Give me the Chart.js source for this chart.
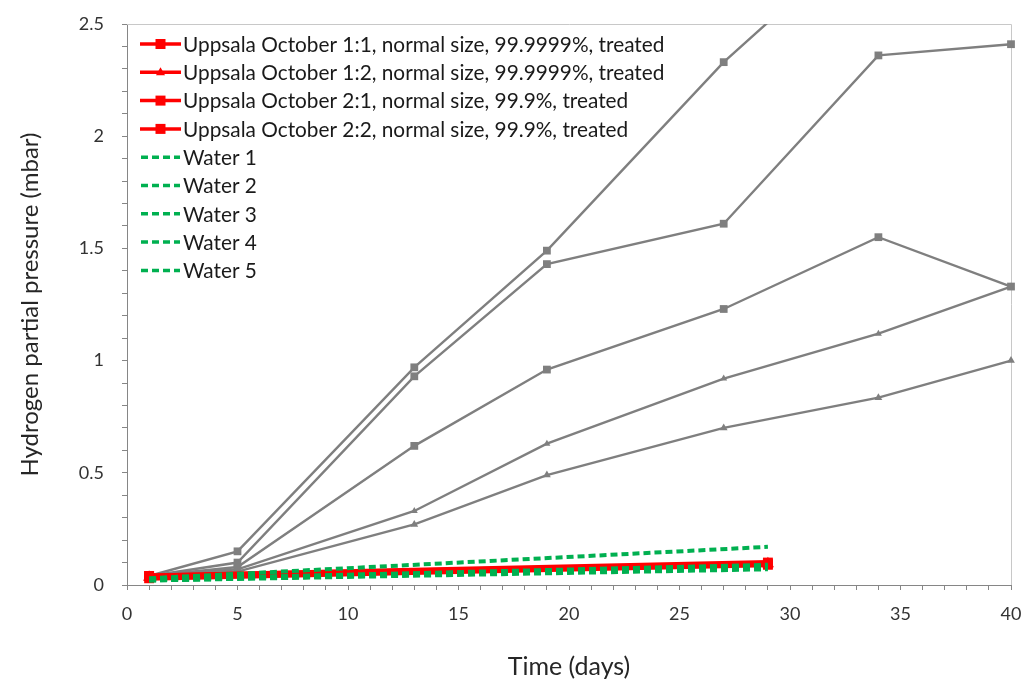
<!DOCTYPE html>
<html>
<head>
<meta charset="utf-8">
<script src="https://cdn.jsdelivr.net/npm/chart.js@4.4.1/dist/chart.umd.min.js"></script>
<style>
  html, body { margin: 0; padding: 0; background: #ffffff; }
  #wrap { width: 1024px; height: 684px; position: relative; }
</style>
</head>
<body>
<div id="wrap"><canvas id="c" width="1024" height="684"></canvas></div>
<script>
// ---------- data ----------
const greyDays = [1, 5, 13, 19, 27, 34, 40];
const greyA = [0.04, 0.15, 0.97, 1.49, 2.33, 2.95];
const greyB = [0.04, 0.10, 0.93, 1.43, 1.61, 2.36, 2.41];
const greyC = [0.04, 0.08, 0.62, 0.96, 1.23, 1.55, 1.33];
const greyD = [0.04, 0.07, 0.33, 0.63, 0.92, 1.12, 1.33];
const greyE = [0.04, 0.06, 0.27, 0.49, 0.70, 0.835, 1.00];

const shortDays = [1, 29];
const treatedLabels = [
  "Uppsala October 1:1, normal size, 99.9999%, treated",
  "Uppsala October 1:2, normal size, 99.9999%, treated",
  "Uppsala October 2:1, normal size, 99.9%, treated",
  "Uppsala October 2:2, normal size, 99.9%, treated"
];
const treated11 = [0.040, 0.100];
const treated12 = [0.035, 0.095];
const treated21 = [0.030, 0.090];
const treated22 = [0.040, 0.095];

const waterLabels = ["Water 1", "Water 2", "Water 3", "Water 4", "Water 5"];
const water1 = [0.030, 0.170];
const water2 = [0.025, 0.090];
const water3 = [0.020, 0.080];
const water4 = [0.020, 0.070];
const water5 = [0.025, 0.085];

const yTickLabels = ["0", "0.5", "1", "1.5", "2", "2.5"];
const xTickLabels = ["0", "5", "10", "15", "20", "25", "30", "35", "40"];

// ---------- helpers ----------
const pts = (xs, ys) => ys.map((v, i) => ({ x: xs[i], y: v }));
const FONT = "Lato, 'Open Sans', sans-serif";
const GREY = '#7f7f7f';
const RED = '#ff0000';
const GREEN = '#00b050';

const treatedSets = [treated11, treated12, treated21, treated22];
const treatedMarkers = ['rect', 'triangle', 'rect', 'rect'];
const waterSets = [water1, water2, water3, water4, water5];

const datasets = [];
// green water (drawn on top: first)
waterSets.forEach((d, i) => {
  datasets.push({
    label: waterLabels[i], data: pts(shortDays, d),
    borderColor: GREEN, backgroundColor: GREEN, borderWidth: 4,
    borderDash: [7, 4], pointRadius: 0, showLine: true,
    legendShow: true, legendKind: 'water'
  });
});
// red treated
treatedSets.forEach((d, i) => {
  datasets.push({
    label: treatedLabels[i], data: pts(shortDays, d),
    borderColor: RED, backgroundColor: RED, borderWidth: 5,
    pointStyle: treatedMarkers[i], pointRadius: 7, pointBorderWidth: 0,
    showLine: true, legendShow: true, legendKind: 'treated',
    clip: { left: 10, right: 10, top: 0, bottom: 10 }
  });
});
// grey untreated (not in legend)
const greySets = [greyA, greyB, greyC, greyD, greyE];
const greyMarkers = ['rect', 'rect', 'rect', 'triangle', 'triangle'];
const greyRadius = [5.5, 5.5, 5.5, 4, 4.5];
greySets.forEach((d, i) => {
  datasets.push({
    label: 'grey' + i, data: pts(greyDays, d),
    borderColor: GREY, backgroundColor: GREY, borderWidth: 2.4,
    pointStyle: greyMarkers[i], pointRadius: greyRadius[i], pointBorderWidth: 0,
    showLine: true, legendShow: false,
    clip: { left: 10, right: 10, top: 0, bottom: 10 }
  });
});

// ---------- plugins ----------
const framePlugin = {
  id: 'frame',
  beforeDatasetsDraw(chart) {
    const { ctx, chartArea: a } = chart;
    ctx.save();
    ctx.strokeStyle = '#c8c8c8';
    ctx.lineWidth = 1;
    ctx.beginPath();
    ctx.moveTo(a.left, a.top + 0.5);
    ctx.lineTo(a.right + 0.5, a.top + 0.5);
    ctx.lineTo(a.right + 0.5, a.bottom);
    ctx.stroke();
    ctx.restore();
  }
};

const legendPlugin = {
  id: 'insideLegend',
  afterDatasetsDraw(chart) {
    const ctx = chart.ctx;
    const items = chart.data.datasets.filter(d => d.legendShow);
    const ordered = items.filter(d => d.legendKind === 'treated').concat(items.filter(d => d.legendKind === 'water'));
    const x0 = 140, y0 = 44, step = 28.3;
    ctx.save();
    ordered.forEach((d, i) => {
      const y = y0 + i * step;
      ctx.strokeStyle = d.borderColor;
      ctx.fillStyle = d.borderColor;
      if (d.legendKind === 'treated') {
        ctx.setLineDash([]);
        ctx.lineWidth = 3.5;
        ctx.beginPath(); ctx.moveTo(x0, y); ctx.lineTo(x0 + 41, y); ctx.stroke();
        const cx = x0 + 20.5;
        if (d.pointStyle === 'triangle') {
          ctx.beginPath(); ctx.moveTo(cx, y - 5); ctx.lineTo(cx + 4.5, y + 3); ctx.lineTo(cx - 4.5, y + 3); ctx.closePath(); ctx.fill();
        } else {
          ctx.fillRect(cx - 5, y - 5, 10, 10);
        }
      } else {
        ctx.lineWidth = 3.5;
        ctx.setLineDash([7, 4]);
        ctx.beginPath(); ctx.moveTo(x0 + 1, y); ctx.lineTo(x0 + 40, y); ctx.stroke();
        ctx.setLineDash([]);
      }
      ctx.fillStyle = '#1a1a1a';
      ctx.font = "20.8px " + FONT;
      ctx.textBaseline = 'middle';
      ctx.textAlign = 'left';
      ctx.fillText(d.label, x0 + 43, y + 1);
    });
    ctx.restore();
  }
};

// ---------- chart ----------
const near = (v, step) => Math.abs(v / step - Math.round(v / step)) < 1e-6;

new Chart(document.getElementById('c'), {
  type: 'scatter',
  data: { datasets },
  options: {
    responsive: false,
    animation: false,
    events: [],
    layout: { padding: { top: 24, right: 13, left: 0, bottom: 0 } },
    plugins: { legend: { display: false }, tooltip: { enabled: false } },
    scales: {
      x: {
        type: 'linear', min: 0, max: 40,
        afterFit(s) { s.height = 99; s.paddingRight = 0; s.paddingLeft = 0; },
        border: { color: '#868686', width: 1 },
        grid: { drawOnChartArea: false, drawTicks: true, tickLength: 5, color: '#868686' },
        ticks: {
          stepSize: 1, autoSkip: false, maxRotation: 0, padding: 13,
          color: '#333333', font: { family: FONT, size: 18 },
          callback: (v) => near(v, 5) ? xTickLabels[Math.round(v / 5)] : ''
        },
        title: {
          display: true, text: 'Time (days)', color: '#262626',
          font: { family: FONT, size: 25 }, padding: { top: 0, bottom: 2 }
        }
      },
      y: {
        type: 'linear', min: 0, max: 2.5,
        afterFit(s) { s.width = 127; s.paddingTop = 0; s.paddingBottom = 0; },
        border: { color: '#868686', width: 1 },
        grid: { drawOnChartArea: false, drawTicks: true, tickLength: 5, color: '#868686' },
        ticks: {
          stepSize: 0.1, autoSkip: false, padding: 18,
          color: '#333333', font: { family: FONT, size: 18 },
          callback: (v) => near(v, 0.5) ? yTickLabels[Math.round(v / 0.5)] : ''
        },
        title: {
          display: true, text: 'Hydrogen partial pressure (mbar)', color: '#262626',
          font: { family: FONT, size: 24 }, padding: { top: 16, bottom: 0 }
        }
      }
    }
  },
  plugins: [framePlugin, legendPlugin]
});
</script>
</body>
</html>
